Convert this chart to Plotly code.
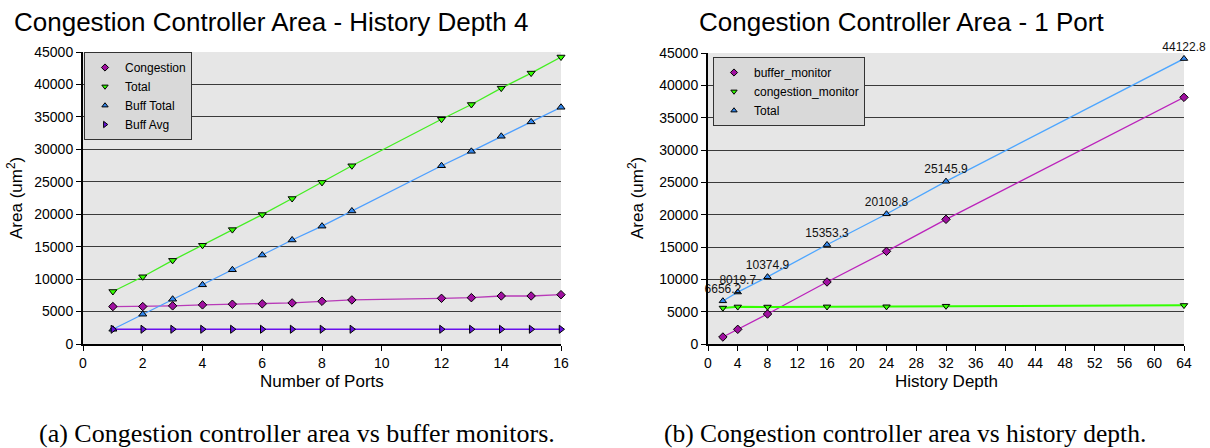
import plotly.graph_objects as go

W, H = 1210, 448

# ---------------- data: left chart (history depth 4) ----------------
ports = [1, 2, 3, 4, 5, 6, 7, 8, 9, 12, 13, 14, 15, 16]
congestion = [5770, 5770, 5880, 6030, 6130, 6190, 6330, 6580, 6790, 7040, 7140, 7400, 7400, 7600]
total_a = [8090, 10360, 12890, 15210, 17630, 19950, 22420, 24900, 27470, 34640, 36910, 39430, 41750, 44230]
buff_total = [2270, 4590, 6900, 9120, 11440, 13710, 16030, 18160, 20500, 27470, 29690, 32010, 34230, 36480]
buff_avg = [2270, 2270, 2270, 2270, 2270, 2270, 2270, 2270, 2270, 2270, 2270, 2270, 2270, 2270]

# ---------------- data: right chart (1 port) ----------------
depth = [2, 4, 8, 16, 24, 32, 64]
buffer_monitor = [1080, 2270, 4640, 9590, 14330, 19280, 38140]
congestion_monitor = [5576, 5750, 5735, 5763, 5779, 5866, 5982]
total_b = [6656.2, 8019.7, 10374.9, 15353.3, 20108.8, 25145.9, 44122.8]

titles = ["Congestion Controller Area - History Depth 4", "Congestion Controller Area - 1 Port"]
captions = ["(a) Congestion controller area vs buffer monitors.", "(b) Congestion controller area vs history depth."]

SANS = "Liberation Sans, Arial, sans-serif"
SERIF = "Liberation Serif, Times New Roman, serif"

def px_x(p):
    return p / W

def px_y(p):
    return 1 - p / H

fig = go.Figure()

def add_series(x, y, name, line_color, fill, symbol, xa, ya, legend, lw=1.3, text=None, msize=6.5):
    fig.add_trace(go.Scatter(
        x=x, y=y, mode="lines+markers" + ("+text" if text else ""),
        line=dict(color=line_color, width=lw),
        marker=dict(symbol=symbol, size=msize, color=fill, line=dict(color="black", width=1)),
        text=text, textposition="top center",
        textfont=dict(family=SANS, size=12, color="#111"),
        xaxis=xa, yaxis=ya, showlegend=False, name=name, cliponaxis=False))
    # legend entry (marker only)
    fig.add_trace(go.Scatter(
        x=[None], y=[None], mode="markers", name=name,
        marker=dict(symbol=symbol, size=5.5, color=fill, line=dict(color="black", width=1)),
        xaxis=xa, yaxis=ya, legend=legend, showlegend=True))

add_series(ports, congestion, "Congestion", "#b83ab8", "#a010a0", "diamond", "x", "y", "legend")
add_series(ports, total_a, "Total", "#44ee22", "#33ff00", "triangle-down", "x", "y", "legend", msize=7)
add_series(ports, buff_total, "Buff Total", "#4d9fff", "#3388ee", "triangle-up", "x", "y", "legend", msize=7)
add_series(ports, buff_avg, "Buff Avg", "#6a10ee", "#6611dd", "triangle-right", "x", "y", "legend", lw=1.6, msize=7)

add_series(depth, buffer_monitor, "buffer_monitor", "#bb22bb", "#a010a0", "diamond", "x2", "y2", "legend2")
add_series(depth, congestion_monitor, "congestion_monitor", "#33ff00", "#33ff00", "triangle-down", "x2", "y2", "legend2", lw=2)
add_series(depth, total_b, "Total", "#4da6ff", "#3388ee", "triangle-up", "x2", "y2", "legend2",
           text=[f"{v:.1f}" for v in total_b])

# plot area pixel boxes
L = dict(x0=83, x1=561, y0=52, y1=344)
R = dict(x0=708, x1=1184, y0=53, y1=344)

axis_common = dict(showline=True, linecolor="black", linewidth=2, ticks="outside",
                   ticklen=5, tickcolor="black", tickwidth=1, automargin=False,
                   tickfont=dict(family=SANS, size=14, color="black"), zeroline=False)

fig.update_layout(
    template="none",
    width=W, height=H, margin=dict(l=0, r=0, t=0, b=0, pad=0, autoexpand=False),
    paper_bgcolor="white", plot_bgcolor="#e6e6e6",
    showlegend=True,
    xaxis=dict(domain=[px_x(L["x0"]), px_x(L["x1"])], range=[0, 16], dtick=2, anchor="y",
               showgrid=False, **axis_common),
    yaxis=dict(domain=[px_y(L["y1"]), px_y(L["y0"])], range=[0, 45000], dtick=5000, anchor="x",
               tickformat="d", showgrid=True, gridcolor="#3a3a3a", gridwidth=1, **axis_common),
    xaxis2=dict(domain=[px_x(R["x0"]), px_x(R["x1"])], range=[0, 64], dtick=4, anchor="y2",
                showgrid=False, **axis_common),
    yaxis2=dict(domain=[px_y(R["y1"]), px_y(R["y0"])], range=[0, 45000], dtick=5000, anchor="x2",
                tickformat="d", showgrid=True, gridcolor="#3a3a3a", gridwidth=1, **axis_common),
    legend=dict(x=px_x(84), y=px_y(52), xanchor="left", yanchor="top",
                bgcolor="#d9d9d9", bordercolor="#333", borderwidth=1,
                font=dict(family=SANS, size=12, color="black"), itemwidth=30,
                tracegroupgap=0),
    legend2=dict(x=px_x(713), y=px_y(57), xanchor="left", yanchor="top",
                 bgcolor="#d9d9d9", bordercolor="#333", borderwidth=1,
                 font=dict(family=SANS, size=12, color="black"), itemwidth=30,
                 tracegroupgap=0),
)

ann = []
# chart titles
ann.append(dict(text=titles[0], x=px_x(12), y=px_y(22), xanchor="left", yanchor="middle",
                font=dict(family=SANS, size=26, color="black")))
ann.append(dict(text=titles[1], x=px_x(697), y=px_y(22), xanchor="left", yanchor="middle",
                font=dict(family=SANS, size=26, color="black")))
# axis titles
ann.append(dict(text="Number of Ports", x=px_x(322), y=px_y(381), xanchor="center", yanchor="middle",
                font=dict(family=SANS, size=17, color="black")))
ann.append(dict(text="History Depth", x=px_x(946), y=px_y(381), xanchor="center", yanchor="middle",
                font=dict(family=SANS, size=17, color="black")))
ann.append(dict(text="Area (um<sup>2</sup>)", x=px_x(15), y=px_y(198), xanchor="center", yanchor="middle",
                textangle=-90, font=dict(family=SANS, size=17, color="black")))
ann.append(dict(text="Area (um<sup>2</sup>)", x=px_x(636), y=px_y(198), xanchor="center", yanchor="middle",
                textangle=-90, font=dict(family=SANS, size=17, color="black")))
# captions
ann.append(dict(text=captions[0], x=px_x(297), y=px_y(433), xanchor="center", yanchor="middle",
                font=dict(family=SERIF, size=26, color="black")))
ann.append(dict(text=captions[1], x=px_x(905), y=px_y(433), xanchor="center", yanchor="middle",
                font=dict(family=SERIF, size=25.5, color="black")))

for a in ann:
    a.update(xref="paper", yref="paper", showarrow=False)
fig.update_layout(annotations=ann)

fig.write_html("out.html", config={"displayModeBar": False},
               post_script="document.body.style.margin='0';document.body.style.overflow='hidden';")
